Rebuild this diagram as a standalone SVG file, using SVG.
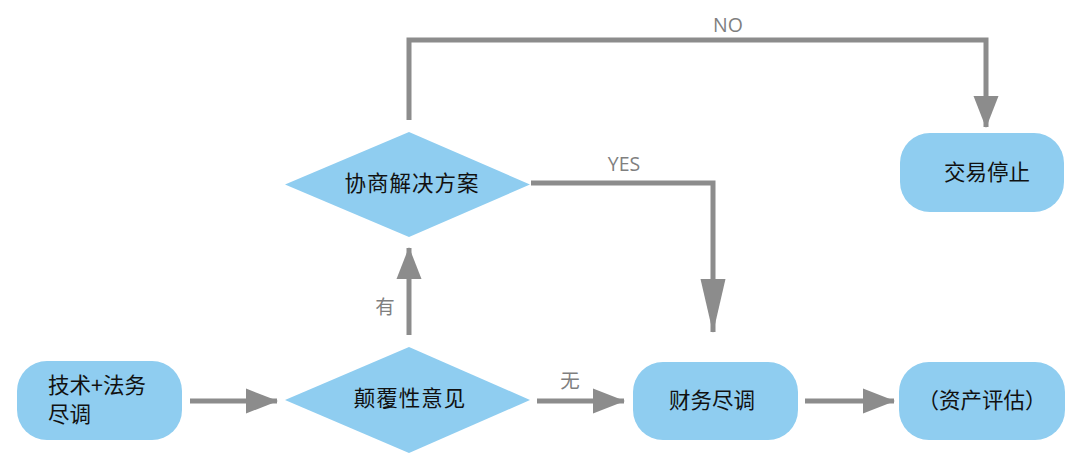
<svg xmlns="http://www.w3.org/2000/svg" width="1080" height="466" viewBox="0 0 1080 466">
<style>
.node{fill:#8FCDF0}
.t{font-family:"Noto Sans CJK SC","Noto Sans",sans-serif;font-size:21.5px;fill:#111}
.lbl{font-family:"Open Sans","Noto Sans CJK SC",sans-serif;font-size:19.5px;fill:#7f7f7f}
.c{fill:none;stroke:#8c8c8c;stroke-width:5}
</style>
<defs>
<marker id="arr" markerUnits="userSpaceOnUse" markerWidth="32" markerHeight="26" viewBox="0 0 32 26" refX="31" refY="13" orient="auto"><path d="M0,0.5 L32,13 L0,25.5 z" fill="#8c8c8c"/></marker>
<marker id="arrL" markerUnits="userSpaceOnUse" markerWidth="54" markerHeight="26" viewBox="0 0 54 26" refX="53" refY="13" orient="auto"><path d="M0,0.5 L54,13 L0,25.5 z" fill="#8c8c8c"/></marker>
</defs>
<rect width="1080" height="466" fill="#fff"/>
<g id="connectors">
<path class="c" d="M409,120 V40 H986 V127" marker-end="url(#arr)"/>
<path class="c" d="M531,183 H713 V332" marker-end="url(#arrL)"/>
<path class="c" d="M409,335 V248" marker-end="url(#arr)"/>
<path class="c" d="M190,401 H277" marker-end="url(#arr)"/>
<path class="c" d="M537,401 H624" marker-end="url(#arr)"/>
<path class="c" d="M805,401 H894" marker-end="url(#arr)"/>
<text class="lbl" x="728" y="32" text-anchor="middle">NO</text>
<text class="lbl" x="624" y="171" text-anchor="middle">YES</text>
<text class="lbl" x="385" y="314" text-anchor="middle">有</text>
<text class="lbl" x="570" y="388" text-anchor="middle">无</text>
</g>
<g id="n1"><rect class="node" x="17" y="361" width="165" height="79" rx="30"/><text class="t" x="48" y="393">技术+法务</text><text class="t" x="48" y="422">尽调</text></g>
<g id="d1"><polygon class="node" points="285,184.5 409,132 530,184.5 409,237"/><text class="t" x="412" y="191" text-anchor="middle" letter-spacing="1">协商解决方案</text></g>
<g id="d2"><polygon class="node" points="285,400 409,347 530,400 409,453"/><text class="t" x="410" y="406" text-anchor="middle" letter-spacing="1">颠覆性意见</text></g>
<g id="n2"><rect class="node" x="900" y="133" width="164" height="79" rx="30"/><text class="t" x="987" y="180" text-anchor="middle">交易停止</text></g>
<g id="n3"><rect class="node" x="633" y="362" width="165" height="78" rx="30"/><text class="t" x="712" y="408" text-anchor="middle">财务尽调</text></g>
<g id="n4"><rect class="node" x="899" y="362" width="166" height="78" rx="30"/><text class="t" x="982" y="408" text-anchor="middle">（资产评估）</text></g>
</svg>
